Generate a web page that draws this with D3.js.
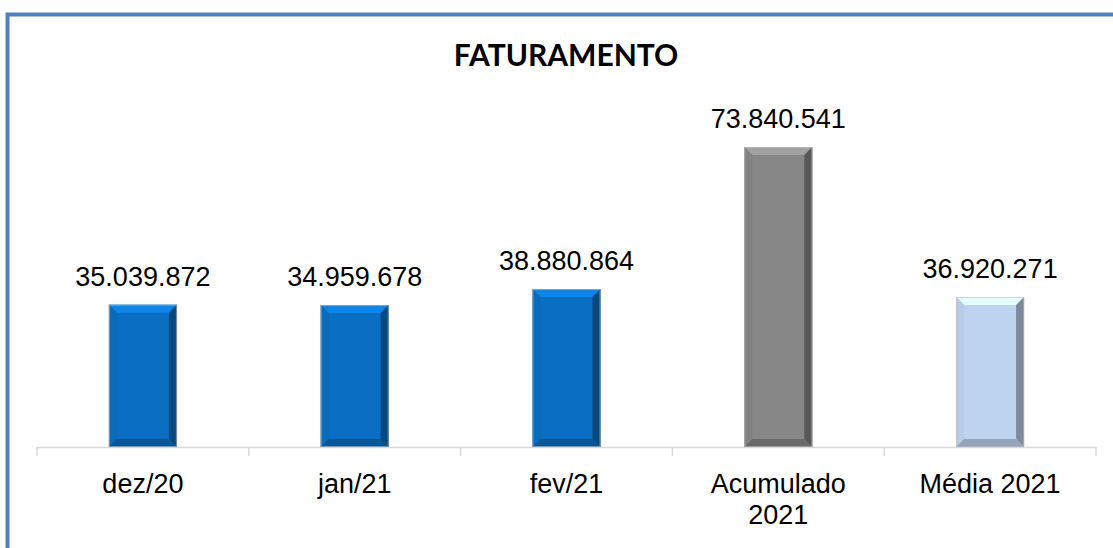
<!DOCTYPE html>
<html>
<head>
<meta charset="utf-8">
<script src="https://cdn.jsdelivr.net/npm/d3@7"></script>
<style>
  body { margin: 0; background: #fff; }
  svg { display: block; }
  text { font-family: "Liberation Sans", Arial, sans-serif; fill: #000; }
  .title { font-family: "Lato", "Liberation Sans", sans-serif; }
</style>
</head>
<body>
<svg width="1113" height="548"></svg>
<script>
const width = 1113, height = 548;

const categories = ["dez/20", "jan/21", "fev/21", "Acumulado 2021", "Média 2021"];
const values = [35039872, 34959678, 38880864, 73840541, 36920271];
const labels = ["35.039.872", "34.959.678", "38.880.864", "73.840.541", "36.920.271"];
const barColors = ["#0a6fc2", "#0a6fc2", "#0a6fc2", "#878787", "#bed3ef"];

const svg = d3.select("svg");

// frame (only top and left edges are inside the picture)
svg.append("path")
    .attr("d", "M7.5,1000 L7.5,14.5 L1200,14.5")
    .attr("fill", "none")
    .attr("stroke", "#4f81bd")
    .attr("stroke-width", 4);

svg.append("text")
    .attr("class", "title")
    .attr("x", 566)
    .attr("y", 66)
    .attr("text-anchor", "middle")
    .attr("font-size", "30px")
    .attr("font-weight", "bold")
    .text("FATURAMENTO");

const x = d3.scaleBand()
    .domain(categories)
    .range([37, 1096])
    .paddingInner(0)
    .paddingOuter(0);

const y = d3.scaleLinear()
    .domain([0, 80000000])
    .range([447, 122]);

const barW = 68;
const bev = 8;

// axis line + ticks
const axis = svg.append("g");
axis.append("line")
    .attr("x1", x.range()[0]).attr("x2", x.range()[1])
    .attr("y1", y(0) + 0.5).attr("y2", y(0) + 0.5)
    .attr("stroke", "#d9d9d9").attr("stroke-width", 1.5);
const edges = categories.map(c => x(c)).concat([x.range()[1]]);
axis.selectAll(".tick")
    .data(edges)
    .enter().append("line")
    .attr("x1", d => d).attr("x2", d => d)
    .attr("y1", y(0)).attr("y2", y(0) + 9)
    .attr("stroke", "#d9d9d9").attr("stroke-width", 1.5);

// bevelled bars
const bars = svg.selectAll(".bar")
    .data(values)
    .enter().append("g")
    .attr("class", "bar");

bars.each(function(v, i) {
    const g = d3.select(this);
    const cx = x(categories[i]) + x.bandwidth() / 2;
    const x0 = cx - barW / 2, x1 = cx + barW / 2;
    const y0 = y(v), y1 = y(0);
    const base = d3.color(barColors[i]);
    const pts = a => a.map(p => p.join(",")).join(" ");

    g.append("rect")
        .attr("x", x0).attr("y", y0)
        .attr("width", barW).attr("height", y1 - y0)
        .attr("fill", base);
    // top
    g.append("polygon")
        .attr("points", pts([[x0, y0], [x1, y0], [x1 - bev, y0 + bev], [x0 + bev, y0 + bev]]))
        .attr("fill", base.brighter(0.5));
    // left
    g.append("polygon")
        .attr("points", pts([[x0, y0], [x0 + bev, y0 + bev], [x0 + bev, y1 - bev], [x0, y1]]))
        .attr("fill", base.darker(0.1));
    // right
    g.append("polygon")
        .attr("points", pts([[x1, y0], [x1 - bev, y0 + bev], [x1 - bev, y1 - bev], [x1, y1]]))
        .attr("fill", base.darker(1.2));
    // bottom
    g.append("polygon")
        .attr("points", pts([[x0, y1], [x0 + bev, y1 - bev], [x1 - bev, y1 - bev], [x1, y1]]))
        .attr("fill", base.darker(0.7));
    g.append("rect")
        .attr("x", x0 + 0.5).attr("y", y0 + 0.5)
        .attr("width", barW - 1).attr("height", y1 - y0 - 1)
        .attr("fill", "none")
        .attr("stroke", "#bfbfbf").attr("stroke-width", 1).attr("stroke-opacity", 0.6);
});

// value labels
svg.selectAll(".value")
    .data(values)
    .enter().append("text")
    .attr("class", "value")
    .attr("x", (d, i) => x(categories[i]) + x.bandwidth() / 2)
    .attr("y", d => y(d) - 19)
    .attr("text-anchor", "middle")
    .attr("font-size", "27px")
    .text((d, i) => labels[i]);

// category labels (wrapped on two lines where needed)
const catLabels = {
    "Acumulado 2021": ["Acumulado", "2021"]
};
svg.selectAll(".cat")
    .data(categories)
    .enter().append("text")
    .attr("class", "cat")
    .attr("x", d => x(d) + x.bandwidth() / 2)
    .attr("y", 493)
    .attr("text-anchor", "middle")
    .attr("font-size", "27px")
    .each(function(d) {
        const lines = catLabels[d] || [d];
        d3.select(this).selectAll("tspan")
            .data(lines)
            .enter().append("tspan")
            .attr("x", x(d) + x.bandwidth() / 2)
            .attr("dy", (l, j) => j === 0 ? 0 : 31)
            .text(l => l);
    });
</script>
</body>
</html>
